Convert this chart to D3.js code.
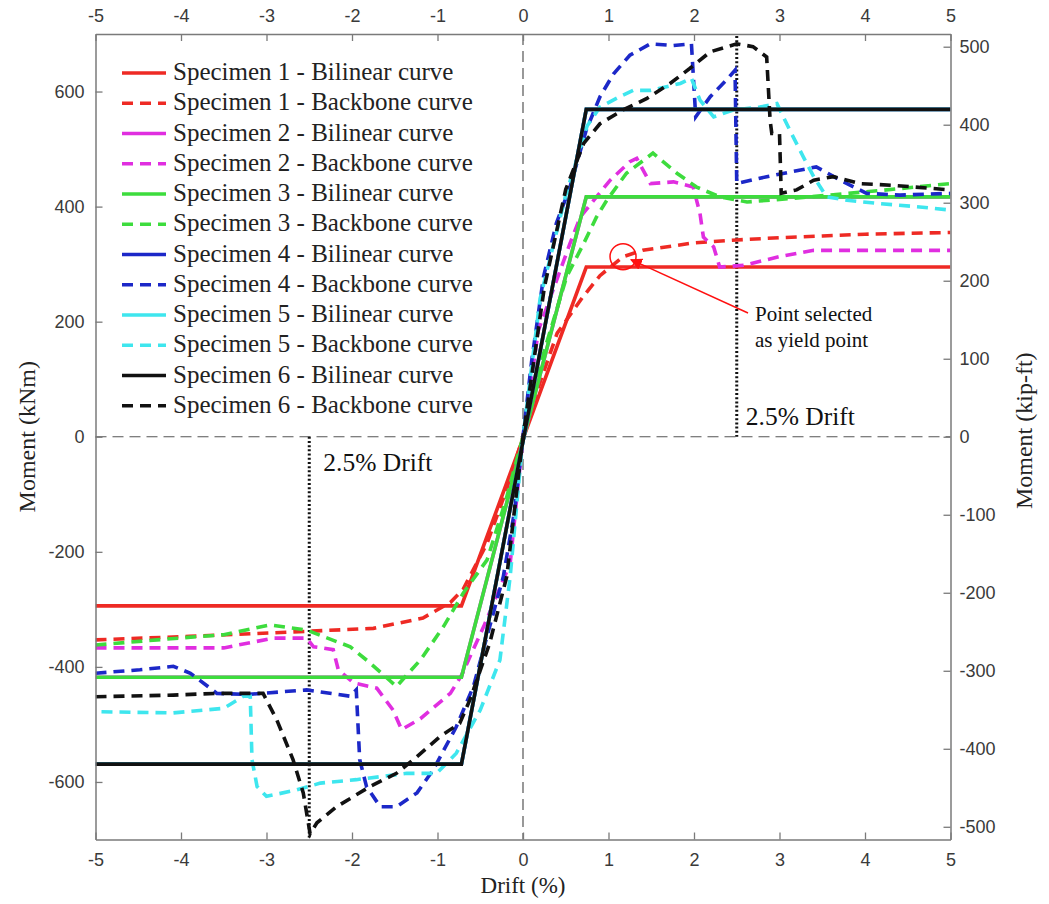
<!DOCTYPE html>
<html>
<head>
<meta charset="utf-8">
<script src="https://cdn.jsdelivr.net/npm/d3@7"></script>
<style>
  html, body { margin: 0; padding: 0; background: #fff; }
  svg { display: block; }
</style>
</head>
<body>
<svg id="chart" width="1049" height="904"></svg>
<script>
// ---------- data (drift %, moment kNm) ----------
const driftTicks = [-5, -4, -3, -2, -1, 0, 1, 2, 3, 4, 5];
const kNmTicks = [-600, -400, -200, 0, 200, 400, 600];
const kipftTicks = [-500, -400, -300, -200, -100, 0, 100, 200, 300, 400, 500];

const seriesLabels = [
  "Specimen 1 - Bilinear curve", "Specimen 1 - Backbone curve",
  "Specimen 2 - Bilinear curve", "Specimen 2 - Backbone curve",
  "Specimen 3 - Bilinear curve", "Specimen 3 - Backbone curve",
  "Specimen 4 - Bilinear curve", "Specimen 4 - Backbone curve",
  "Specimen 5 - Bilinear curve", "Specimen 5 - Backbone curve",
  "Specimen 6 - Bilinear curve", "Specimen 6 - Backbone curve"
];
const specimenColors = ["#ee2a24", "#e02ee0", "#3ddc3d", "#1c28c8", "#3ee6ee", "#111111"];

const bilinear1 = [[-5, -294], [-0.72, -294], [0.74, 295], [5, 295]];
const bilinear2 = [[-5, -418], [-0.72, -418], [0.74, 417], [5, 417]];
const bilinear3 = [[-5, -418], [-0.72, -418], [0.74, 417], [5, 417]];
const bilinear4 = [[-5, -569], [-0.72, -569], [0.74, 569], [5, 569]];
const bilinear5 = [[-5, -569], [-0.72, -569], [0.74, 569], [5, 569]];
const bilinear6 = [[-5, -569], [-0.72, -569], [0.74, 569], [5, 569]];

const backbone1 = [[-5, -353], [-3.9, -347], [-2.5, -338], [-1.75, -333], [-1.17, -315], [-0.85, -288],
  [-0.7, -265], [-0.55, -222], [-0.42, -185], [-0.2, -95], [0, 0], [0.2, 95], [0.4, 180], [0.7, 243],
  [0.9, 280], [1.17, 313], [1.4, 324], [2.0, 337], [2.5, 342], [3.0, 346], [3.5, 349], [4.0, 352], [5, 355]];
const backbone2 = [[-5, -367], [-4.1, -367], [-3.5, -367], [-2.92, -350], [-2.53, -350], [-2.45, -365],
  [-2.22, -370], [-2.16, -405], [-1.98, -428], [-1.71, -437], [-1.52, -475], [-1.42, -509], [-1.2, -490],
  [-0.85, -446], [-0.72, -415], [-0.46, -330], [-0.15, -220], [0, 0], [0.18, 185], [0.55, 336], [0.67, 382],
  [0.86, 417], [1.02, 446], [1.25, 478], [1.33, 484], [1.49, 440], [1.76, 443], [1.99, 434], [2.07, 388],
  [2.11, 347], [2.23, 330], [2.3, 295], [2.58, 298], [3.0, 313], [3.4, 324], [5, 324]];
const backbone3 = [[-5, -362], [-4.28, -353], [-3.5, -344], [-2.96, -327], [-2.53, -336], [-2.34, -347],
  [-2.02, -365], [-1.79, -393], [-1.48, -434], [-1.2, -388], [-0.93, -330], [-0.7, -272], [-0.42, -214],
  [-0.2, -110], [0, 0], [0.25, 150], [0.51, 278], [0.71, 336], [0.86, 382], [0.98, 411], [1.21, 458],
  [1.52, 493], [1.8, 458], [2.03, 434], [2.3, 417], [2.62, 408], [3.12, 414], [3.59, 420], [4.18, 428], [5, 440]];
const backbone4 = [[-5, -411], [-4.48, -405], [-4.09, -399], [-3.89, -411], [-3.58, -446], [-3.23, -448],
  [-2.53, -440], [-2.02, -451], [-1.95, -440], [-1.91, -561], [-1.83, -608], [-1.67, -643], [-1.48, -643],
  [-1.24, -619], [-1.05, -579], [-0.78, -504], [-0.58, -434], [-0.39, -330], [-0.23, -243], [-0.1, -130],
  [0, 0], [0.1, 130], [0.24, 278], [0.39, 371], [0.55, 434], [0.74, 533], [0.9, 591], [1.06, 631],
  [1.25, 663], [1.49, 683], [1.76, 680], [1.97, 683], [2.02, 556], [2.19, 591], [2.38, 620], [2.48, 637],
  [2.5, 440], [2.85, 452], [3.43, 469], [3.71, 446], [4.02, 423], [4.41, 420], [5, 423]];
const backbone5 = [[-4.93, -478], [-4.09, -480], [-3.5, -472], [-3.27, -451], [-3.19, -451], [-3.17, -561],
  [-3.11, -608], [-3.0, -625], [-2.65, -614], [-2.37, -602], [-1.95, -596], [-1.36, -585], [-1.01, -585],
  [-0.78, -550], [-0.5, -475], [-0.27, -388], [-0.15, -243], [0, 0], [0.2, 240], [0.5, 420], [0.75, 540],
  [0.9, 573], [1.13, 591], [1.29, 602], [1.49, 602], [1.84, 614], [1.97, 623], [2.07, 585], [2.23, 556],
  [2.46, 568], [2.77, 573], [2.97, 579], [3.12, 533], [3.28, 486], [3.4, 452], [3.55, 417], [3.79, 411],
  [4.18, 405], [4.6, 400], [5, 394]];
const backbone6 = [[-5, -452], [-4.09, -449], [-3.58, -446], [-3.04, -446], [-2.88, -492], [-2.69, -561],
  [-2.57, -619], [-2.49, -690], [-2.41, -671], [-2.18, -643], [-1.79, -608], [-1.48, -585], [-1.24, -556],
  [-0.97, -521], [-0.74, -498], [-0.62, -457], [-0.39, -359], [-0.19, -243], [0, 0], [0.25, 260],
  [0.5, 430], [0.71, 510], [0.9, 544], [1.17, 568], [1.45, 588], [1.72, 614], [1.95, 640], [2.19, 669],
  [2.5, 683], [2.69, 678], [2.85, 660], [2.89, 550], [2.91, 527], [3.0, 527], [3.02, 423], [3.2, 429],
  [3.4, 446], [3.63, 452], [3.94, 440], [4.33, 437], [5, 429]];

const bilinears = [bilinear1, bilinear2, bilinear3, bilinear4, bilinear5, bilinear6];
const backbones = [backbone1, backbone2, backbone3, backbone4, backbone5, backbone6];

const driftLimit = 2.5;
const yieldPoint = [1.17, 313];
const kNmPerKipft = 1.35582;

// ---------- layout ----------
const svg = d3.select("#chart");
const L = 95.5, R = 950.5, T = 34, B = 839.5;
const x = d3.scaleLinear().domain([-5, 5]).range([L, R]);
const y = d3.scaleLinear().domain([-700, 700]).range([B, T]);
const yR = d3.scaleLinear().domain([-700 / kNmPerKipft, 700 / kNmPerKipft]).range([B, T]);

const axisColor = "#7a7a7a";
const labelColor = "#3a3a3a";
const tickFont = "Liberation Sans, Arial, sans-serif";
const serif = "Liberation Serif, Times New Roman, serif";
const fmt = d => String(d);

svg.append("defs").append("clipPath").attr("id", "clip")
  .append("rect").attr("x", L).attr("y", T).attr("width", R - L).attr("height", B - T);

// zero reference lines
svg.append("line").attr("x1", L).attr("x2", R).attr("y1", y(0)).attr("y2", y(0))
  .attr("stroke", "#555").attr("stroke-width", 1.2).attr("stroke-dasharray", "11,6");
svg.append("line").attr("x1", x(0)).attr("x2", x(0)).attr("y1", T).attr("y2", B)
  .attr("stroke", "#555").attr("stroke-width", 1.2).attr("stroke-dasharray", "11,6");

// 2.5% drift dotted lines
svg.append("line").attr("x1", x(driftLimit)).attr("x2", x(driftLimit)).attr("y1", T + 2).attr("y2", y(0))
  .attr("stroke", "#111").attr("stroke-width", 3).attr("stroke-dasharray", "2,2.2");
svg.append("line").attr("x1", x(-driftLimit)).attr("x2", x(-driftLimit)).attr("y1", y(0)).attr("y2", B - 2)
  .attr("stroke", "#111").attr("stroke-width", 3).attr("stroke-dasharray", "2,2.2");

// curves
const line = d3.line().x(d => x(d[0])).y(d => y(d[1]));
const plot = svg.append("g").attr("clip-path", "url(#clip)");
for (let i = 0; i < 6; i++) {
  plot.append("path").datum(bilinears[i]).attr("d", line)
    .attr("fill", "none").attr("stroke", specimenColors[i]).attr("stroke-width", 3.6)
    .attr("stroke-linejoin", "miter");
  plot.append("path").datum(backbones[i]).attr("d", line)
    .attr("fill", "none").attr("stroke", specimenColors[i]).attr("stroke-width", 3.6)
    .attr("stroke-dasharray", "11,7");
}

// axes
function styleAxis(g) {
  g.select(".domain").attr("stroke", axisColor).attr("stroke-width", 1.5);
  g.selectAll(".tick line").attr("stroke", axisColor).attr("stroke-width", 1.3);
  g.selectAll(".tick text").attr("fill", labelColor).style("font-family", tickFont).style("font-size", "18px");
}
svg.append("g").attr("transform", `translate(0,${B})`)
  .call(d3.axisBottom(x).tickValues(driftTicks).tickSizeInner(-7).tickSizeOuter(0).tickPadding(14).tickFormat(fmt))
  .call(styleAxis);
svg.append("g").attr("transform", `translate(0,${T})`)
  .call(d3.axisTop(x).tickValues(driftTicks).tickSizeInner(-7).tickSizeOuter(0).tickPadding(12).tickFormat(fmt))
  .call(styleAxis);
svg.append("g").attr("transform", `translate(${L},0)`)
  .call(d3.axisLeft(y).tickValues(kNmTicks).tickSizeInner(-7).tickSizeOuter(0).tickPadding(11).tickFormat(fmt))
  .call(styleAxis);
svg.append("g").attr("transform", `translate(${R},0)`)
  .call(d3.axisRight(yR).tickValues(kipftTicks).tickSizeInner(-7).tickSizeOuter(0).tickPadding(9).tickFormat(fmt))
  .call(styleAxis);

// axis titles
svg.append("text").attr("transform", `translate(${x(0)},893)`).attr("text-anchor", "middle")
  .style("font-family", serif).style("font-size", "23px").attr("fill", "#222").text("Drift (%)");
svg.append("text").attr("transform", `translate(35,${y(0)}) rotate(-90)`).attr("text-anchor", "middle")
  .style("font-family", serif).style("font-size", "24px").attr("fill", "#222").text("Moment (kNm)");
svg.append("text").attr("transform", `translate(1032,${y(0) - 6}) rotate(-90)`).attr("text-anchor", "middle")
  .style("font-family", serif).style("font-size", "24px").attr("fill", "#222").text("Moment (kip-ft)");

// legend
const legend = svg.append("g");
seriesLabels.forEach((lab, i) => {
  const yy = 73 + i * 30.25;
  const spec = Math.floor(i / 2);
  legend.append("line").attr("x1", 122).attr("x2", 166).attr("y1", yy).attr("y2", yy)
    .attr("stroke", specimenColors[spec]).attr("stroke-width", 3.6)
    .attr("stroke-dasharray", i % 2 === 1 ? "11,7" : null);
  legend.append("text").attr("x", 173).attr("y", yy + 7)
    .style("font-family", serif).style("font-size", "25px").attr("fill", "#222").text(lab);
});

// annotations
svg.append("text").attr("x", x(driftLimit) + 9).attr("y", 425)
  .style("font-family", serif).style("font-size", "25.5px").attr("fill", "#111").text("2.5% Drift");
svg.append("text").attr("x", x(-driftLimit) + 14).attr("y", 471)
  .style("font-family", serif).style("font-size", "25.5px").attr("fill", "#111").text("2.5% Drift");

svg.append("circle").attr("cx", x(yieldPoint[0])).attr("cy", y(yieldPoint[1])).attr("r", 13)
  .attr("fill", "none").attr("stroke", "#ff1010").attr("stroke-width", 1.5);
svg.append("defs").append("marker").attr("id", "arrow").attr("viewBox", "0 0 10 10")
  .attr("refX", 9).attr("refY", 5).attr("markerWidth", 12).attr("markerHeight", 12)
  .attr("markerUnits", "userSpaceOnUse").attr("orient", "auto")
  .append("path").attr("d", "M0,0 L10,5 L0,10 z").attr("fill", "#ff1010");
svg.append("line").attr("x1", 748).attr("y1", 313).attr("x2", x(yieldPoint[0]) + 8).attr("y2", y(yieldPoint[1]) + 3)
  .attr("stroke", "#ff1010").attr("stroke-width", 1.5).attr("marker-end", "url(#arrow)");
svg.append("text").attr("x", 755).attr("y", 321)
  .style("font-family", serif).style("font-size", "21px").attr("fill", "#111").text("Point selected");
svg.append("text").attr("x", 755).attr("y", 347)
  .style("font-family", serif).style("font-size", "21px").attr("fill", "#111").text("as yield point");
</script>
</body>
</html>
